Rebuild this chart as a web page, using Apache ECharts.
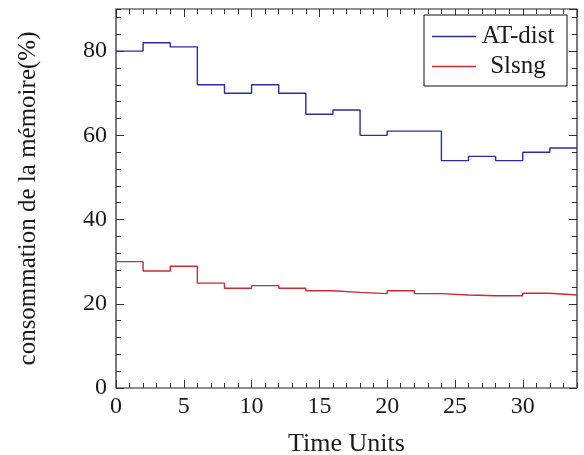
<!DOCTYPE html>
<html>
<head>
<meta charset="utf-8">
<script src="https://cdn.jsdelivr.net/npm/echarts@6/dist/echarts.min.js"></script>
<style>
html,body{margin:0;padding:0;background:#fff;}
#chart{width:584px;height:455px;}
</style>
</head>
<body>
<div id="chart"></div>
<script>
var timePoints = [0, 2, 4, 6, 8, 10, 12, 14, 16, 18, 20, 22, 24, 26, 28, 30, 32, 34];
var atDist = [80, 82, 81, 72, 70, 72, 70, 65, 66, 60, 61, 61, 54, 55, 54, 56, 57, 57];
var slsng = [30, 27.8, 28.9, 24.9, 23.7, 24.3, 23.7, 23.1, 22.7, 22.4, 23.1, 22.4, 22.1, 21.9, 21.9, 22.5, 22.1, 22.1];
var seriesNames = ['AT-dist', 'Slsng'];
var xTitle = 'Time Units';
var yTitle = 'consommation de la mémoire(%)';

var FONT = 'Liberation Serif';
var TXT = '#1a1a1a';
var X_MIN = 0, X_MAX = 34, Y_MIN = 0, Y_MAX = 90;

function pairs(xs, ys) { return xs.map(function (x, i) { return [x, ys[i]]; }); }

function xAx(opts) {
  var base = {
    type: 'value', min: X_MIN, max: X_MAX, position: 'bottom',
    splitLine: { show: false },
    axisLine: { show: false, onZero: false },
    axisLabel: { show: false },
    axisTick: { show: true, inside: true, length: 8, lineStyle: { color: '#333', width: 1 } }
  };
  return Object.assign(base, opts);
}
function yAx(opts) {
  var base = {
    type: 'value', min: Y_MIN, max: Y_MAX, position: 'left',
    splitLine: { show: false },
    axisLine: { show: false, onZero: false },
    axisLabel: { show: false },
    axisTick: { show: true, inside: true, length: 8, lineStyle: { color: '#333', width: 1 } }
  };
  return Object.assign(base, opts);
}
var minorTick = { show: true, inside: true, length: 5, lineStyle: { color: '#333', width: 1 } };

var chart = echarts.init(document.getElementById('chart'), null, { renderer: 'canvas' });
chart.setOption({
  animation: false,
  backgroundColor: '#fff',
  grid: { left: 116, right: 7, top: 9, bottom: 67, containLabel: false, outerBoundsMode: 'none',
          show: true, borderColor: '#222', borderWidth: 1.2, backgroundColor: 'transparent' },
  xAxis: [
    xAx({ interval: 5, name: xTitle, nameLocation: 'middle', nameGap: 43,
          nameTextStyle: { fontFamily: FONT, fontSize: 26, color: TXT },
          axisLabel: { show: true, margin: 7, fontFamily: FONT, fontSize: 24, color: TXT, showMaxLabel: false } }),
    xAx({ interval: 1, axisTick: minorTick }),
    xAx({ interval: 5, position: 'top' }),
    xAx({ interval: 1, position: 'top', axisTick: minorTick })
  ],
  yAxis: [
    yAx({ interval: 20, name: yTitle, nameLocation: 'middle', nameGap: 75,
          nameTextStyle: { fontFamily: FONT, fontSize: 25, color: TXT },
          axisLabel: { show: true, margin: 9, fontFamily: FONT, fontSize: 24, color: TXT, showMaxLabel: false } }),
    yAx({ interval: 4, axisTick: minorTick }),
    yAx({ interval: 20, position: 'right' }),
    yAx({ interval: 4, position: 'right', axisTick: minorTick })
  ],
  legend: {
    orient: 'vertical', left: 424, top: 15,
    padding: [9, 12, 7, 8], itemGap: 5,
    itemWidth: 44, itemHeight: 1.5, icon: 'rect',
    borderColor: '#111', borderWidth: 1, backgroundColor: '#fff',
    data: seriesNames,
    formatter: function (n) { return '{c|' + n + '}'; },
    textStyle: {
      fontFamily: FONT, fontSize: 25, color: TXT,
      rich: { c: { width: 74, align: 'center', fontFamily: FONT, fontSize: 25, lineHeight: 26, color: TXT } }
    }
  },
  series: [
    { name: seriesNames[0], type: 'line', step: 'end', symbol: 'none', showSymbol: false,
      xAxisIndex: 0, yAxisIndex: 0, data: pairs(timePoints, atDist),
      itemStyle: { color: '#2b2ba6' }, lineStyle: { color: '#2b2ba6', width: 1.4 }, z: 3 },
    { name: seriesNames[1], type: 'line', step: 'end', symbol: 'none', showSymbol: false,
      xAxisIndex: 0, yAxisIndex: 0, data: pairs(timePoints, slsng),
      itemStyle: { color: '#cc2a35' }, lineStyle: { color: '#cc2a35', width: 1.4 }, z: 3 }
  ]
});
</script>
</body>
</html>
